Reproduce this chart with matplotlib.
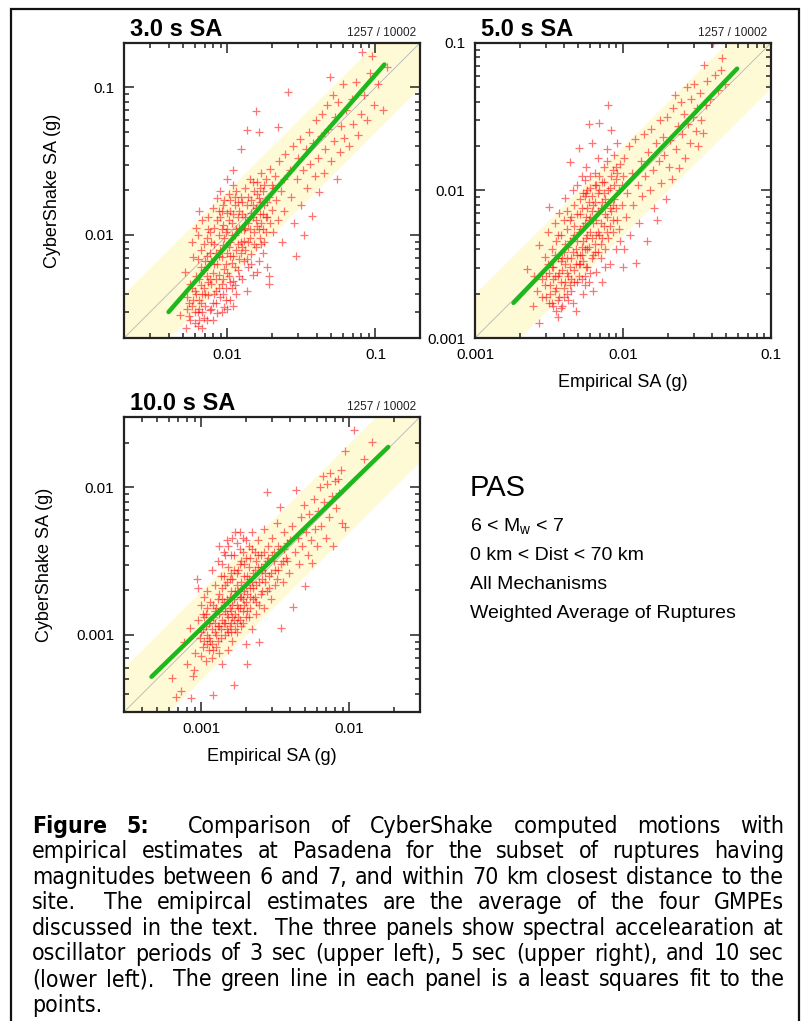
import matplotlib
matplotlib.use('Agg')
import matplotlib.pyplot as plt
import numpy as np
from matplotlib import font_manager
from matplotlib.patches import Rectangle
from matplotlib.ticker import FixedLocator, LogLocator, FuncFormatter, NullFormatter

plt.rcParams['font.family'] = ['Liberation Sans', 'DejaVu Sans']

# ---- data, log10 of SA in g: (empirical, cybershake) ----
pts_3s = [
    (-2.29,-2.25),(-2.27,-2.42),(-2.26,-2.55),(-2.25,-2.33),(-2.24,-2.48),(-2.23,-2.15),(-2.22,-2.60),(-2.22,-2.38),
    (-2.28,-2.63),(-2.17,-2.63),(-2.32,-2.54),(-2.21,-1.95),(-2.24,-2.05),
    (-2.20,-2.52),(-2.19,-2.44),(-2.19,-2.30),(-2.18,-2.22),(-2.18,-2.10),(-2.17,-1.90),(-2.16,-2.56),(-2.16,-2.36),
    (-2.15,-2.48),(-2.15,-2.18),(-2.14,-2.02),(-2.14,-2.28),(-2.13,-2.41),(-2.13,-1.96),(-2.12,-2.51),(-2.12,-2.12),
    (-2.20,-2.00),(-2.17,-2.40),(-2.14,-2.58),(-2.19,-1.84),
    (-2.11,-2.33),(-2.11,-2.05),(-2.10,-1.82),(-2.10,-2.46),(-2.09,-2.20),(-2.09,-1.95),(-2.08,-2.38),(-2.08,-2.12),
    (-2.07,-1.75),(-2.07,-2.53),(-2.06,-2.27),(-2.06,-2.00),(-2.05,-1.88),(-2.05,-2.42),(-2.04,-2.15),(-2.04,-2.33),
    (-2.03,-1.93),(-2.03,-2.07),(-2.02,-2.49),(-2.02,-2.23),(-2.10,-2.58),(-2.05,-1.70),(-2.08,-2.30),(-2.03,-1.80),
    (-2.01,-1.98),(-2.01,-2.36),(-2.00,-2.12),(-2.00,-1.85),(-1.99,-2.28),(-1.99,-1.72),(-1.98,-2.05),(-1.98,-2.44),
    (-1.97,-1.92),(-1.97,-2.19),(-1.96,-1.66),(-1.96,-2.31),(-1.95,-2.00),(-1.95,-1.80),(-1.94,-2.10),(-1.94,-2.40),
    (-1.93,-1.88),(-1.93,-2.24),(-1.92,-1.95),(-1.92,-2.16),(-1.96,-1.56),(-2.00,-2.50),(-1.98,-1.76),
    (-1.91,-1.74),(-1.91,-2.05),(-1.90,-2.30),(-1.90,-1.86),(-1.89,-1.97),(-1.89,-2.18),(-1.88,-1.68),(-1.88,-2.10),
    (-1.87,-1.80),(-1.87,-2.38),(-1.86,-1.92),(-1.86,-2.22),(-1.85,-1.62),(-1.85,-2.02),(-1.84,-1.76),(-1.84,-2.13),
    (-1.83,-1.88),(-1.83,-2.27),(-1.82,-1.70),(-1.82,-1.98),
    (-1.81,-1.82),(-1.81,-2.08),(-1.80,-1.64),(-1.80,-1.94),(-1.79,-2.18),(-1.79,-1.75),(-1.78,-1.86),(-1.78,-2.02),
    (-1.77,-1.58),(-1.77,-1.92),(-1.76,-2.12),(-1.76,-1.70),(-1.75,-1.80),(-1.74,-1.98),(-1.74,-1.62),(-1.73,-1.88),
    (-1.73,-2.22),(-1.72,-1.74),(-1.72,-2.28),(-1.75,-2.05),
    (-1.71,-1.55),(-1.70,-1.83),(-1.69,-1.68),(-1.69,-1.98),(-1.68,-1.60),(-1.67,-1.76),(-1.66,-1.90),(-1.66,-1.27),
    (-1.65,-1.50),(-1.64,-1.70),(-1.63,-2.05),(-1.62,-1.62),(-1.62,-1.84),(-1.61,-1.45),
    (-1.59,-1.03),(-1.58,-1.56),(-1.57,-1.74),(-1.56,-1.40),(-1.55,-1.92),(-1.54,-2.14),(-1.53,-1.62),(-1.52,-1.48),
    (-1.51,-1.35),(-1.50,-1.80),(-1.49,-1.56),(-1.48,-2.00),(-1.47,-1.42),(-1.46,-1.68),(-1.45,-1.30),(-1.44,-1.52),
    (-1.43,-1.87),(-1.42,-1.38),(-1.41,-1.60),(-1.40,-1.22),
    (-1.39,-1.48),(-1.38,-1.71),(-1.37,-1.33),(-1.36,-1.18),(-1.35,-1.58),(-1.34,-1.42),(-1.33,-1.12),(-1.32,-1.28),
    (-1.31,-0.93),(-1.30,-1.50),(-1.29,-1.05),(-1.28,-1.36),(-1.27,-1.20),(-1.26,-1.62),(-1.25,-1.10),(-1.24,-1.44),
    (-1.23,-1.26),(-1.22,-0.98),(-1.21,-1.34),(-1.20,-1.15),
    (-1.18,-1.40),(-1.16,-1.08),(-1.15,-1.25),(-1.13,-0.96),(-1.12,-1.32),(-1.10,-1.18),(-1.09,-0.76),(-1.08,-1.05),
    (-1.06,-1.22),(-1.04,-0.90),(-1.02,-0.79),(-1.01,-1.12),(-0.98,-0.98),(-0.95,-1.15),(-0.92,-0.86),
    (-1.81,-1.16),(-1.87,-1.29),(-1.79,-1.30),(-1.91,-1.42),(-1.72,-2.33),
    (-2.16,-2.06),(-2.12,-2.30),(-2.09,-2.40),(-2.06,-2.14),(-2.04,-1.84),(-2.01,-2.20),(-1.99,-1.90),(-1.97,-2.36),
    (-1.95,-2.22),(-1.93,-1.78),(-1.90,-2.08),(-1.88,-1.95),(-1.86,-2.05),(-1.84,-1.85),(-1.83,-1.64),(-1.80,-2.25),
    (-1.78,-1.68),(-1.76,-1.96),(-2.18,-2.46),(-2.11,-2.18),(-2.07,-1.90),(-2.03,-2.40),(-1.98,-2.14),(-1.94,-1.70),
    (-1.91,-2.12),(-2.13,-1.88),(-2.00,-1.62),(-1.96,-2.48),
    (-2.23,-2.44),(-2.21,-2.28),(-2.20,-2.16),(-2.19,-2.58),(-2.18,-2.34),(-2.17,-2.52),(-2.16,-2.24),(-2.15,-2.40),
    (-2.14,-2.14),(-2.13,-2.32),(-2.12,-1.98),(-2.11,-2.50),(-2.10,-2.26),(-2.09,-2.06),(-2.08,-2.46),(-2.07,-2.20),
    (-2.06,-1.84),(-2.06,-2.36),(-2.05,-2.10),(-2.04,-2.52),(-2.04,-1.96),(-2.03,-2.30),(-2.02,-2.02),(-2.02,-1.76),
    (-2.01,-2.44),(-2.00,-2.26),(-2.00,-1.96),(-1.99,-2.08),(-1.98,-1.84),(-1.98,-2.32),(-1.97,-2.00),(-1.96,-1.86),
    (-1.96,-2.14),(-1.95,-1.74),(-1.95,-2.34),(-1.94,-1.96),(-1.93,-2.06),(-1.92,-1.84),(-1.92,-2.28),(-1.91,-1.96),
    (-1.90,-1.78),(-1.89,-2.04),(-1.88,-1.88),(-1.87,-2.16),(-1.86,-1.74),(-1.85,-1.96),(-1.84,-2.20),(-1.83,-1.80),
    (-1.82,-2.06),(-1.81,-1.90),(-1.80,-1.72),(-1.79,-1.96),(-1.78,-1.78),(-1.77,-2.06),(-1.76,-1.86),(-1.75,-1.66),
    (-1.74,-1.88),(-1.73,-1.78),(-1.71,-1.92),(-1.70,-1.66),(-2.26,-2.46),(-2.24,-2.36),(-2.22,-2.52),(-2.21,-2.40),
    (-2.19,-2.50),(-2.27,-2.50),(-2.25,-2.58),(-2.20,-2.62),
]

pts_5s = [
    (-2.65,-2.53),(-2.61,-2.78),(-2.58,-2.68),(-2.57,-2.90),(-2.57,-2.37),(-2.55,-2.60),(-2.53,-2.45),(-2.52,-2.72),
    (-2.51,-2.28),(-2.50,-2.11),(-2.50,-2.56),(-2.60,-2.58),
    (-2.49,-2.64),(-2.48,-2.40),(-2.48,-2.76),(-2.47,-2.52),(-2.46,-2.22),(-2.46,-2.68),(-2.45,-2.34),(-2.45,-2.82),
    (-2.44,-2.58),(-2.44,-2.46),(-2.43,-2.72),(-2.43,-2.15),(-2.42,-2.62),(-2.42,-2.30),(-2.41,-2.54),(-2.41,-2.78),
    (-2.40,-2.42),(-2.40,-2.66),(-2.47,-2.60),(-2.44,-2.86),
    (-2.39,-2.05),(-2.39,-2.50),(-2.38,-2.70),(-2.38,-2.26),(-2.37,-2.58),(-2.37,-2.38),(-2.36,-1.81),(-2.36,-2.64),
    (-2.35,-2.18),(-2.35,-2.46),(-2.34,-2.76),(-2.34,-2.32),(-2.33,-2.54),(-2.33,-2.10),(-2.32,-2.82),(-2.32,-2.40),
    (-2.31,-2.62),(-2.31,-1.96),(-2.30,-2.28),(-2.30,-2.50),(-2.38,-2.14),(-2.34,-2.00),
    (-2.30,-1.71),(-2.29,-2.44),(-2.29,-2.16),(-2.28,-2.60),(-2.28,-1.90),(-2.27,-2.34),(-2.27,-2.70),(-2.26,-2.22),
    (-2.26,-2.04),(-2.25,-2.52),(-2.25,-1.84),(-2.24,-2.40),(-2.24,-2.12),(-2.23,-1.55),(-2.23,-2.62),(-2.22,-2.28),
    (-2.22,-1.98),(-2.21,-1.68),(-2.21,-2.46),(-2.20,-2.68),(-2.20,-2.10),(-2.26,-1.93),(-2.23,-2.20),
    (-2.19,-2.36),(-2.19,-1.88),(-2.18,-2.20),(-2.18,-2.55),(-2.17,-2.02),(-2.17,-1.78),(-2.16,-1.54),(-2.16,-2.30),
    (-2.15,-2.46),(-2.15,-2.12),(-2.14,-1.94),(-2.14,-2.62),(-2.13,-2.24),(-2.13,-1.84),(-2.12,-2.40),(-2.12,-2.06),
    (-2.11,-1.72),(-2.11,-2.18),(-2.10,-1.42),(-2.10,-2.32),(-2.18,-1.96),
    (-2.09,-1.98),(-2.09,-2.50),(-2.08,-1.59),(-2.08,-2.14),(-2.07,-1.86),(-2.07,-2.28),(-2.06,-2.06),(-2.06,-1.76),
    (-2.05,-2.40),(-2.05,-1.92),(-2.04,-2.20),(-2.04,-1.68),(-2.03,-2.00),(-2.02,-2.34),(-2.02,-1.82),(-2.01,-2.10),
    (-2.00,-1.90),(-2.00,-2.52),
    (-1.99,-1.78),(-1.98,-2.18),(-1.97,-2.02),(-1.96,-1.70),(-1.95,-2.30),(-1.94,-1.88),(-1.93,-2.10),(-1.92,-1.65),
    (-1.91,-2.49),(-1.90,-1.96),(-1.89,-2.22),(-1.88,-1.80),(-1.87,-2.04),(-1.86,-1.62),(-1.85,-1.90),
    (-1.84,-2.34),(-1.83,-1.74),(-1.82,-2.00),(-1.81,-1.58),(-1.80,-1.86),(-1.79,-2.12),(-1.78,-1.68),(-1.77,-2.20),
    (-1.76,-1.80),(-1.75,-1.52),(-1.74,-1.95),(-1.73,-1.64),(-1.72,-1.76),(-1.71,-2.06),(-1.70,-1.50),(-1.69,-1.84),
    (-1.68,-1.66),(-1.67,-1.92),(-1.66,-1.44),(-1.65,-1.35),
    (-1.64,-1.72),(-1.63,-1.56),(-1.62,-1.85),(-1.61,-1.40),(-1.60,-1.62),(-1.59,-1.48),(-1.58,-1.78),(-1.57,-1.30),
    (-1.56,-1.55),(-1.55,-1.68),(-1.54,-1.38),(-1.53,-1.50),(-1.52,-1.28),(-1.51,-1.60),(-1.50,-1.44),(-1.49,-1.70),
    (-1.48,-1.34),(-1.47,-1.52),(-1.46,-1.61),(-1.45,-1.15),(-1.44,-1.42),(-1.43,-1.26),(-1.41,-1.38),
    (-1.38,-1.22),(-1.36,-1.32),(-1.34,-1.18),(-1.33,-1.10),(-1.31,-1.28),(-1.39,-1.00),
    (-2.42,-2.48),(-2.38,-2.56),(-2.36,-2.34),(-2.33,-2.24),(-2.31,-2.44),(-2.29,-2.06),(-2.27,-2.48),(-2.25,-2.32),
    (-2.24,-2.00),(-2.22,-2.56),(-2.21,-2.14),(-2.19,-2.42),(-2.17,-2.28),(-2.16,-1.90),(-2.15,-2.36),(-2.13,-2.02),
    (-2.12,-2.52),(-2.11,-1.80),(-2.09,-2.24),(-2.07,-2.10),(-2.05,-1.84),(-2.03,-2.26),(-2.01,-1.96),(-1.99,-2.40),
    (-2.40,-2.20),(-2.35,-2.60),(-2.28,-2.38),(-2.26,-2.58),(-2.46,-2.44),(-2.44,-2.30),
    (-2.49,-2.70),(-2.48,-2.52),(-2.47,-2.78),(-2.46,-2.58),(-2.45,-2.66),(-2.44,-2.74),(-2.43,-2.56),(-2.42,-2.80),
    (-2.41,-2.46),(-2.40,-2.72),(-2.39,-2.62),(-2.39,-2.36),(-2.38,-2.46),(-2.37,-2.74),(-2.36,-2.52),(-2.36,-2.20),
    (-2.35,-2.68),(-2.34,-2.42),(-2.33,-2.62),(-2.33,-2.30),(-2.32,-2.50),(-2.31,-2.16),(-2.31,-2.34),(-2.30,-2.58),
    (-2.29,-2.26),(-2.29,-2.50),(-2.28,-2.12),(-2.28,-2.44),(-2.27,-2.24),(-2.27,-2.02),(-2.26,-2.40),(-2.26,-2.64),
    (-2.25,-2.18),(-2.25,-2.02),(-2.24,-2.30),(-2.24,-2.52),(-2.23,-2.08),(-2.23,-2.38),(-2.22,-2.18),(-2.22,-1.90),
    (-2.21,-2.32),(-2.21,-2.04),(-2.20,-2.22),(-2.20,-2.44),(-2.19,-2.08),(-2.19,-1.96),(-2.18,-2.30),(-2.17,-2.14),
    (-2.17,-2.42),(-2.16,-2.00),(-2.15,-2.22),(-2.14,-2.08),(-2.14,-2.32),(-2.13,-1.94),(-2.12,-2.16),(-2.11,-2.28),
    (-2.10,-2.00),(-2.09,-2.12),(-2.08,-1.90),(-2.07,-2.20),(-2.06,-1.96),(-2.05,-2.12),(-2.04,-1.88),(-2.53,-2.64),
    (-2.51,-2.50),(-2.52,-2.58),(-2.50,-2.76),(-2.55,-2.72),
]

pts_10s = [
    (-3.20,-3.29),(-3.17,-3.42),(-3.14,-3.38),(-3.12,-3.05),(-3.10,-3.20),(-3.07,-3.43),(-3.06,-3.28),(-3.05,-3.24),
    (-3.08,-2.95),(-3.04,-3.12),
    (-3.03,-2.62),(-3.02,-2.68),(-3.02,-2.90),(-3.01,-3.02),(-3.00,-3.14),(-3.00,-2.80),(-2.99,-3.08),(-2.99,-2.96),
    (-2.98,-2.74),(-2.97,-3.18),(-2.97,-2.86),(-2.96,-3.00),(-2.96,-2.70),(-2.95,-3.10),(-2.95,-2.92),
    (-2.94,-3.04),(-2.94,-2.78),(-2.93,-2.56),(-2.93,-3.16),(-2.92,-2.88),(-2.92,-3.41),(-2.91,-2.98),(-2.91,-2.66),
    (-2.90,-3.08),(-2.90,-2.82),(-2.89,-2.50),(-2.89,-2.94),(-2.88,-3.12),(-2.88,-2.72),(-2.87,-3.02),(-2.87,-2.60),
    (-2.86,-2.90),(-2.86,-3.20),(-2.85,-2.78),(-2.85,-2.44),
    (-2.84,-3.00),(-2.84,-2.66),(-2.83,-2.86),(-2.83,-2.36),(-2.82,-3.10),(-2.82,-2.54),(-2.81,-2.94),(-2.81,-2.74),
    (-2.80,-2.46),(-2.80,-2.84),(-2.79,-3.04),(-2.79,-2.62),(-2.78,-3.34),(-2.78,-2.90),(-2.77,-2.70),(-2.77,-2.30),
    (-2.76,-2.80),(-2.76,-2.98),(-2.75,-2.56),(-2.75,-2.88),
    (-2.74,-2.42),(-2.74,-2.74),(-2.73,-2.94),(-2.73,-2.64),(-2.72,-2.34),(-2.72,-2.84),(-2.71,-2.52),(-2.71,-2.70),
    (-2.70,-3.06),(-2.70,-2.78),(-2.69,-3.20),(-2.69,-2.60),(-2.68,-2.40),(-2.68,-2.88),(-2.67,-2.68),(-2.67,-2.48),
    (-2.66,-2.96),(-2.66,-2.30),(-2.65,-2.76),(-2.65,-2.58),
    (-2.64,-2.44),(-2.63,-2.66),(-2.63,-2.86),(-2.62,-2.36),(-2.62,-2.54),(-2.61,-3.05),(-2.60,-2.72),(-2.60,-2.46),
    (-2.59,-2.62),(-2.58,-2.28),(-2.58,-2.82),(-2.57,-2.52),(-2.56,-2.03),(-2.56,-2.70),(-2.55,-2.40),
    (-2.54,-2.60),(-2.53,-2.76),(-2.52,-2.34),(-2.51,-2.50),(-2.50,-2.66),(-2.49,-2.24),(-2.48,-2.56),(-2.47,-2.13),
    (-2.47,-2.42),(-2.46,-2.95),(-2.45,-2.64),(-2.44,-2.30),(-2.43,-2.48),(-2.42,-2.38),(-2.41,-2.58),
    (-2.39,-2.26),(-2.38,-2.81),(-2.37,-2.44),(-2.36,-2.02),(-2.35,-2.34),(-2.34,-2.52),(-2.33,-2.20),(-2.32,-2.40),
    (-2.31,-2.12),(-2.30,-2.67),(-2.29,-2.30),(-2.28,-2.46),(-2.27,-2.18),(-2.26,-2.36),(-2.25,-2.51),(-2.24,-2.08),
    (-2.23,-2.28),(-2.22,-2.40),(-2.21,-2.16),(-2.20,-2.00),
    (-2.19,-2.26),(-2.18,-1.92),(-2.17,-2.10),(-2.16,-2.34),(-2.15,-1.98),(-2.14,-2.20),(-2.13,-1.90),(-2.12,-2.06),
    (-2.11,-2.40),(-2.10,-1.96),(-2.09,-2.14),(-2.08,-1.94),(-2.07,-2.04),(-2.06,-1.88),(-2.05,-2.24),(-2.03,-2.27),
    (-2.03,-1.75),(-1.97,-1.61),(-1.90,-1.81),(-1.85,-1.69),
    (-2.98,-2.88),(-2.96,-3.06),(-2.93,-2.96),(-2.91,-2.84),(-2.89,-3.04),(-2.87,-2.82),(-2.86,-2.68),(-2.84,-2.92),
    (-2.83,-2.76),(-2.82,-2.98),(-2.81,-2.62),(-2.80,-2.92),(-2.79,-2.80),(-2.78,-2.56),(-2.77,-2.96),(-2.76,-2.66),
    (-2.75,-2.82),(-2.74,-2.90),(-2.73,-2.50),(-2.72,-2.76),(-2.71,-2.60),(-2.70,-2.88),(-2.69,-2.72),(-2.68,-2.54),
    (-2.67,-2.82),(-2.66,-2.64),(-2.64,-2.74),(-2.63,-2.50),(-2.61,-2.80),(-2.59,-2.56),(-2.57,-2.64),(-2.55,-2.48),
    (-2.53,-2.58),(-2.51,-2.44),(-2.49,-2.62),(-2.45,-2.50),(-2.92,-3.10),(-2.88,-2.94),(-2.85,-2.60),(-2.80,-2.70),
    (-3.00,-2.98),(-2.99,-2.86),(-2.98,-3.04),(-2.97,-2.94),(-2.96,-2.82),(-2.95,-3.02),(-2.94,-2.90),(-2.93,-3.06),
    (-2.92,-2.80),(-2.91,-2.92),(-2.90,-3.00),(-2.89,-2.76),(-2.88,-2.86),(-2.87,-2.96),(-2.86,-2.76),(-2.85,-2.92),
    (-2.84,-2.84),(-2.83,-2.96),(-2.83,-2.64),(-2.82,-2.88),(-2.81,-2.82),(-2.80,-2.98),(-2.80,-2.58),(-2.79,-2.88),
    (-2.78,-2.76),(-2.78,-2.46),(-2.77,-2.86),(-2.76,-2.58),(-2.76,-2.92),(-2.75,-2.70),(-2.74,-2.82),(-2.74,-2.52),
    (-2.73,-2.74),(-2.72,-2.44),(-2.72,-2.92),(-2.71,-2.80),(-2.70,-2.66),(-2.70,-2.48),(-2.69,-2.84),(-2.68,-2.62),
    (-2.67,-2.74),(-2.66,-2.42),(-2.65,-2.68),(-2.64,-2.56),(-2.63,-2.78),(-2.62,-2.46),(-2.61,-2.64),(-2.60,-2.54),
    (-2.59,-2.70),(-2.58,-2.44),(-2.57,-2.58),(-2.56,-2.50),(-2.54,-2.68),(-2.52,-2.46),(-2.50,-2.56),(-2.48,-2.40),
    (-2.46,-2.52),(-2.44,-2.42),(-2.42,-2.50),(-2.40,-2.36),(-2.88,-2.40),(-2.86,-2.52),(-2.84,-2.46),(-2.82,-2.40),
    (-2.79,-2.34),(-2.76,-2.38),(-2.74,-2.30),(-2.70,-2.36),
]

# least squares fit lines (end points, g)
fit_3s_x, fit_3s_y = [0.0040, 0.115], [0.0030, 0.143]
fit_5s_x, fit_5s_y = [0.00182, 0.059], [0.00173, 0.067]
fit_10s_x, fit_10s_y = [0.00046, 0.0183], [0.00052, 0.0188]

lims_3s = (0.002, 0.2)
lims_5s = (0.001, 0.1)
lims_10s = (0.0003, 0.03)
ticks_3s = [0.01, 0.1]
ticks_5s = [0.001, 0.01, 0.1]
ticks_10s = [0.001, 0.01]

band_factor = 2.0
count_text = '1257 / 10002'

info_lines = ['6 < M$_{\\mathregular{w}}$ < 7', '0 km < Dist < 70 km',
              'All Mechanisms', 'Weighted Average of Ruptures']

cap_lines = [
    "Figure 5:  Comparison of CyberShake computed motions with",
    "empirical estimates at Pasadena for the subset of ruptures having",
    "magnitudes between 6 and 7, and within 70 km closest distance to the",
    "site.  The emipircal estimates are the average of the four GMPEs",
    "discussed in the text.  The three panels show spectral accelearation at",
    "oscillator periods of 3 sec (upper left), 5 sec (upper right), and 10 sec",
    "(lower left).  The green line in each panel is a least squares fit to the",
    "points.",
]

W, H = 806, 1021
fig = plt.figure(figsize=(W / 100, H / 100), dpi=100)


def fx(x):
    return x / W


def fy(y):
    return 1 - y / H


def panel(left, top, pts, lims, fitx, fity, ticks, title, ylab=None, xlab=None,
          ylab_x=-0.243):
    ax = fig.add_axes([fx(left), fy(top + 295), 296 / W, 295 / H])
    ax.set_xscale('log')
    ax.set_yscale('log')
    lo, hi = lims
    xs = np.array([lo / 10, hi * 10])
    ax.fill_between(xs, xs / band_factor, xs * band_factor, color='#fffad6', lw=0, zorder=0)
    ax.plot(xs, xs, color='#b4b4b4', lw=0.6, zorder=1)
    p = np.array(pts)
    ax.plot(10 ** p[:, 0], 10 ** p[:, 1], '+', color='#ff0000', ms=6, mew=0.9,
            alpha=0.55, zorder=2)
    ax.plot(fitx, fity, color='#1cb81c', lw=3.2, solid_capstyle='round', zorder=3)
    ax.set_xlim(lims)
    ax.set_ylim(lims)
    for axis in (ax.xaxis, ax.yaxis):
        axis.set_major_locator(FixedLocator(ticks))
        axis.set_major_formatter(FuncFormatter(lambda v, pos: '%g' % v))
        axis.set_minor_locator(LogLocator(base=10, subs=np.arange(2, 10), numticks=20))
        axis.set_minor_formatter(NullFormatter())
    ax.tick_params(which='both', direction='in', top=True, right=True, width=1.1,
                   color='#222222', labelsize=11)
    ax.tick_params(which='major', length=7, pad=7)
    ax.tick_params(which='minor', length=3.5)
    for s in ax.spines.values():
        s.set_linewidth(1.6)
        s.set_color('#222222')
    if ylab:
        ax.set_ylabel(ylab, fontsize=13, va='center')
        ax.yaxis.set_label_coords(ylab_x, 0.5)
    if xlab:
        ax.set_xlabel(xlab, fontsize=13, va='center')
        ax.xaxis.set_label_coords(0.5, -0.15)
    fig.text(fx(left + 6), fy(top - 13), title, fontsize=17, fontweight='bold',
             ha='left', va='center')
    fig.text(fx(left + 292), fy(top - 10), count_text, fontsize=8.5, ha='right',
             va='center', color='#222222')
    return ax


panel(124, 43, pts_3s, lims_3s, fit_3s_x, fit_3s_y, ticks_3s, '3.0 s SA',
      ylab='CyberShake SA (g)')
panel(475, 43, pts_5s, lims_5s, fit_5s_x, fit_5s_y, ticks_5s, '5.0 s SA',
      xlab='Empirical SA (g)')
panel(124, 417, pts_10s, lims_10s, fit_10s_x, fit_10s_y, ticks_10s, '10.0 s SA',
      ylab='CyberShake SA (g)', xlab='Empirical SA (g)', ylab_x=-0.267)

# station info block
fig.text(fx(470), fy(488), 'PAS', fontsize=21, ha='left', va='center')
for i, s in enumerate(info_lines):
    fig.text(fx(470), fy(527 + 28.7 * i), s, fontsize=14, ha='left', va='center')

# outer frame
fig.patches.append(Rectangle((fx(11), -0.05), (799 - 11) / W, fy(9) + 0.05,
                             transform=fig.transFigure, fill=False, lw=1.6,
                             edgecolor='#111111'))

# caption font: a narrow sans if there is one
ttf = font_manager.fontManager.ttflist
names = {f.name for f in ttf}
cap_kw = {'family': 'Liberation Sans'}
if 'Liberation Sans Narrow' in names:
    cap_kw = {'family': 'Liberation Sans Narrow'}
elif any(f.name == 'DejaVu Sans' and 'Condensed' in f.fname for f in ttf):
    cap_kw = {'family': 'DejaVu Sans', 'fontstretch': 'condensed'}

renderer = fig.canvas.get_renderer()
cap_left, cap_right = 32, 784

# size: as big as 17.5 pt while the fullest line still fits
probe = fig.text(0, 0, '', fontsize=10, **cap_kw)
widest = 0
for line in cap_lines[:-1]:
    probe.set_text(' '.join(line.split()))
    widest = max(widest, probe.get_window_extent(renderer).width)
probe.remove()
cap_size = min(17.5, 10 * (cap_right - cap_left) * 0.985 / widest)

for li, line in enumerate(cap_lines):
    y = 826 + 25.6 * li
    toks, gaps, pending = [], [], 0
    for s in line.split(' '):
        if s == '':
            pending += 1
            continue
        if toks:
            gaps.append(1 + pending)
        toks.append(s)
        pending = 0
    texts = []
    for k, s in enumerate(toks):
        bold = (li == 0 and k < 2)
        t = fig.text(0, fy(y), s, fontsize=cap_size,
                     fontweight='bold' if bold else 'normal', ha='left', va='center',
                     **cap_kw)
        texts.append(t)
    widths = [t.get_window_extent(renderer).width for t in texts]
    if li == len(cap_lines) - 1 or not gaps:
        unit = cap_size * 0.3
    else:
        unit = (cap_right - cap_left - sum(widths)) / sum(gaps)
    x = cap_left
    for k, t in enumerate(texts):
        t.set_x(fx(x))
        x += widths[k] + (gaps[k] * unit if k < len(gaps) else 0)

fig.savefig('out.png', dpi=100)
